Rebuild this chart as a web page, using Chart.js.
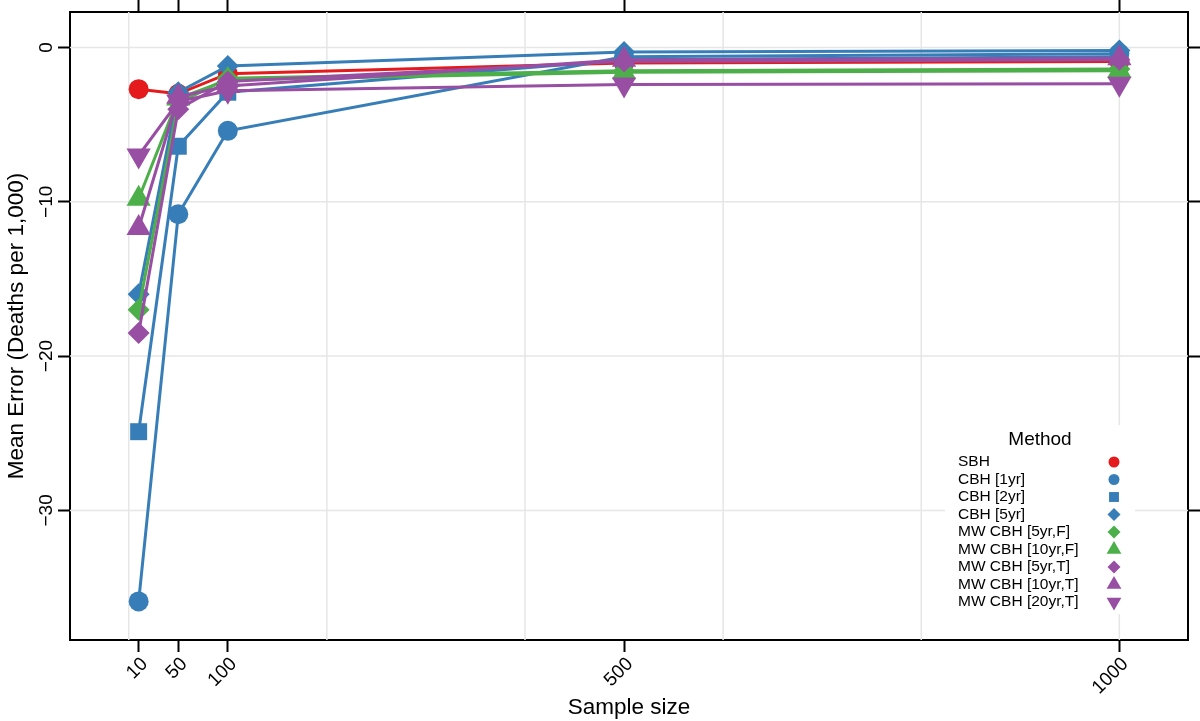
<!DOCTYPE html>
<html>
<head>
<meta charset="utf-8">
<script src="https://cdn.jsdelivr.net/npm/chart.js@4/dist/chart.umd.min.js"></script>
<style>
html, body { margin: 0; padding: 0; background: #fff; }
</style>
</head>
<body>
<canvas id="mainCanvas" width="1200" height="721"></canvas>
<script>
// data
var sampleSizes = [10, 50, 100, 500, 1000];
var methodNames = ['SBH', 'CBH [1yr]', 'CBH [2yr]', 'CBH [5yr]', 'MW CBH [5yr,F]',
    'MW CBH [10yr,F]', 'MW CBH [5yr,T]', 'MW CBH [10yr,T]', 'MW CBH [20yr,T]'];
var sbh      = [-2.7, -3.0, -1.7, -1.0, -0.9];
var cbh1     = [-35.9, -10.8, -5.4, -0.6, -0.4];
var cbh2     = [-24.9, -6.4, -2.9, -0.8, -0.6];
var cbh5     = [-16.0, -2.9, -1.2, -0.3, -0.2];
var mw5F     = [-17.0, -3.6, -2.0, -1.5, -1.4];
var mw10F    = [-9.8, -3.3, -2.1, -1.6, -1.5];
var mw5T     = [-18.5, -4.0, -2.2, -0.9, -0.8];
var mw10T    = [-11.7, -3.2, -2.5, -0.8, -0.7];
var mw20T    = [-7.0, -3.5, -2.8, -2.4, -2.35];
var xTicks = [10, 50, 100, 500, 1000];
var yTicks = [0, -10, -20, -30];
var xGrid = [0, 200, 400, 600, 800, 1000];

var seriesValues = [sbh, cbh1, cbh2, cbh5, mw5F, mw10F, mw5T, mw10T, mw20T];

var RED = '#E41A1C', BLUE = '#377EB8', GREEN = '#4DAF4A', PURPLE = '#984EA3';
var looks = [
    { c: RED,    s: 'circle',   r: 10,   lr: 5.5, rot: 0 },
    { c: BLUE,   s: 'circle',   r: 10,   lr: 5.5, rot: 0 },
    { c: BLUE,   s: 'rect',     r: 12,   lr: 7,   rot: 0 },
    { c: BLUE,   s: 'rectRot',  r: 11,   lr: 6.5, rot: 0 },
    { c: GREEN,  s: 'rectRot',  r: 11,   lr: 6.5, rot: 0 },
    { c: GREEN,  s: 'triangle', r: 14,   lr: 8.5, rot: 0 },
    { c: PURPLE, s: 'rectRot',  r: 11,   lr: 6.5, rot: 0 },
    { c: PURPLE, s: 'triangle', r: 14,   lr: 8.5, rot: 0 },
    { c: PURPLE, s: 'triangle', r: 14,   lr: 8.5, rot: 180 }
];

var datasets = seriesValues.map(function (vals, i) {
    var lk = looks[i];
    return {
        label: methodNames[i],
        data: vals.map(function (v, j) { return { x: sampleSizes[j], y: v }; }),
        borderColor: lk.c,
        backgroundColor: lk.c,
        borderWidth: 3,
        pointStyle: lk.s,
        pointRadius: lk.r,
        pointRotation: lk.rot,
        pointBorderWidth: 0,
        pointBackgroundColor: lk.c,
        showLine: true,
        tension: 0,
        order: seriesValues.length - i
    };
});

function fmtNum(v) { return v < 0 ? '\u2212' + Math.abs(v) : String(v); }
function setTicks(list) {
    return function (scale) { scale.ticks = list.map(function (v) { return { value: v }; }); };
}
function fixSize(w, h) {
    return function (s) {
        if (w !== null) s.width = w;
        if (h !== null) s.height = h;
        s.paddingTop = 0; s.paddingBottom = 0; s.paddingLeft = 0; s.paddingRight = 0;
    };
}

var gridPlugin = {
    id: 'latticeGrid',
    beforeDatasetsDraw: function (chart) {
        var ctx = chart.ctx, a = chart.chartArea;
        var xs = chart.scales.x, ys = chart.scales.y;
        ctx.save();
        ctx.beginPath();
        ctx.rect(a.left, a.top, a.right - a.left, a.bottom - a.top);
        ctx.clip();
        ctx.strokeStyle = '#e6e6e6';
        ctx.lineWidth = 1.5;
        xGrid.forEach(function (v) {
            var p = xs.getPixelForValue(v);
            ctx.beginPath(); ctx.moveTo(p, a.top); ctx.lineTo(p, a.bottom); ctx.stroke();
        });
        yTicks.forEach(function (v) {
            var p = ys.getPixelForValue(v);
            ctx.beginPath(); ctx.moveTo(a.left, p); ctx.lineTo(a.right, p); ctx.stroke();
        });
        ctx.restore();
    }
};

var legendPlugin = {
    id: 'methodLegend',
    afterDatasetsDraw: function (chart) {
        var ctx = chart.ctx, a = chart.chartArea;
        var textX = a.right - 230, symX = a.right - 74, top = a.bottom - 213;
        ctx.save();
        ctx.fillStyle = '#fff';
        ctx.fillRect(textX - 13, top - 2, 190, 189);
        ctx.fillStyle = '#000';
        ctx.font = '19px "Liberation Sans", Arial, sans-serif';
        ctx.textAlign = 'center';
        ctx.textBaseline = 'middle';
        ctx.fillText('Method', textX + 82, top + 13);
        ctx.font = '15.5px "Liberation Sans", Arial, sans-serif';
        ctx.textAlign = 'left';
        methodNames.forEach(function (name, i) {
            var y = top + 35 + i * 17.5;
            ctx.fillStyle = '#000';
            ctx.fillText(name, textX, y);
            var lk = looks[i];
            ctx.fillStyle = lk.c;
            Chart.helpers.drawPoint(ctx, { pointStyle: lk.s, radius: lk.lr, rotation: lk.rot, borderWidth: 0 }, symX, y);
        });
        ctx.restore();
    }
};

var FONT = '"Liberation Sans", Arial, Helvetica, sans-serif';
var axisLine = { display: true, color: '#000', width: 2 };

var ChartObj = new Chart(document.getElementById('mainCanvas'), {
    type: 'line',
    data: { datasets: datasets },
    plugins: [gridPlugin, legendPlugin],
    options: {
        responsive: false,
        animation: false,
        events: [],
        layout: { padding: 0, autoPadding: false },
        plugins: { legend: { display: false }, tooltip: { enabled: false } },
        scales: {
            x: {
                type: 'linear', position: 'bottom',
                min: -59.3, max: 1069.3,
                afterBuildTicks: setTicks(xTicks),
                afterFit: fixSize(null, 81),
                grid: { drawOnChartArea: false, tickLength: 12, tickColor: '#000', tickWidth: 2 },
                border: axisLine,
                ticks: {
                    color: '#000', font: { family: FONT, size: 19 },
                    minRotation: 45, maxRotation: 45, padding: 1, labelOffset: 6,
                    callback: function (v) { return String(v); }
                },
                title: { display: true, text: 'Sample size', color: '#000',
                    font: { family: FONT, size: 22.5 }, padding: 0 }
            },
            x2: {
                type: 'linear', position: 'top',
                min: -59.3, max: 1069.3,
                afterBuildTicks: setTicks(xTicks),
                afterFit: fixSize(null, 12),
                grid: { drawOnChartArea: false, tickLength: 12, tickColor: '#000', tickWidth: 2 },
                border: axisLine,
                ticks: { display: false }
            },
            y: {
                type: 'linear', position: 'left',
                min: -38.4, max: 2.3,
                afterBuildTicks: setTicks(yTicks),
                afterFit: fixSize(70, null),
                grid: { drawOnChartArea: false, tickLength: 12, tickColor: '#000', tickWidth: 2 },
                border: axisLine,
                ticks: {
                    color: '#000', font: { family: FONT, size: 19 },
                    minRotation: 90, maxRotation: 90, crossAlign: 'center', padding: -5,
                    callback: fmtNum
                },
                title: { display: true, text: 'Mean Error (Deaths per 1,000)', color: '#000',
                    font: { family: FONT, size: 22.5 }, padding: { top: 3, bottom: 0 } }
            },
            y2: {
                type: 'linear', position: 'right',
                min: -38.4, max: 2.3,
                afterBuildTicks: setTicks(yTicks),
                afterFit: fixSize(12, null),
                grid: { drawOnChartArea: false, tickLength: 12, tickColor: '#000', tickWidth: 2 },
                border: axisLine,
                ticks: { display: false }
            }
        }
    }
});
</script>
</body>
</html>
